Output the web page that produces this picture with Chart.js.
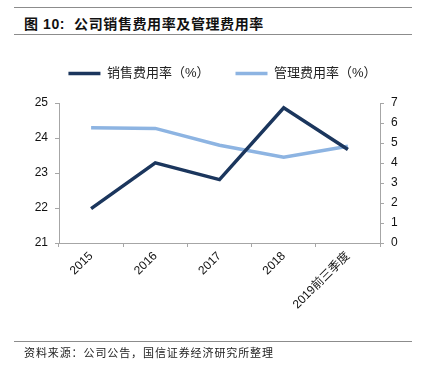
<!DOCTYPE html>
<html>
<head>
<meta charset="utf-8">
<script src="https://cdn.jsdelivr.net/npm/chart.js@4.4.1/dist/chart.umd.min.js"></script>
<style>
  html, body { margin: 0; padding: 0; background: #fff; }
  body { width: 421px; height: 366px; position: relative; overflow: hidden;
         font-family: "Liberation Sans", "Noto Sans CJK SC", sans-serif; }
  .rule { position: absolute; left: 14px; width: 398px; height: 0; border-top: 1px solid #8c8c8c; }
  #title { position: absolute; left: 24px; top: 13px; font-size: 14px; font-weight: bold;
           color: #111; letter-spacing: 0.6px; white-space: nowrap; }
  #source { position: absolute; left: 24px; top: 344px; font-size: 11px; color: #222;
            letter-spacing: 0.9px; white-space: nowrap; }
  #chart-wrap { position: absolute; left: 0; top: 0; width: 421px; height: 366px; }
</style>
</head>
<body>
<div class="rule" style="top:7px"></div>
<div id="title">图 10:&nbsp; 公司销售费用率及管理费用率</div>
<div class="rule" style="top:34px"></div>
<div id="chart-wrap"><canvas id="chart" width="421" height="366"></canvas></div>
<div class="rule" style="top:341px"></div>
<div id="source">资料来源：公司公告，国信证券经济研究所整理</div>

<script>
// --- datos ---
const categories = ['2015', '2016', '2017', '2018', '2019前三季度'];
const salesRate = [21.98, 23.29, 22.81, 24.86, 23.67];   // eje izquierdo
const adminRate = [5.76, 5.73, 4.89, 4.29, 4.84];        // eje derecho
const leftTicks = [21, 22, 23, 24, 25];
const rightTicks = [0, 1, 2, 3, 4, 5, 6, 7];

const FONT = '"Liberation Sans", "Noto Sans CJK SC", sans-serif';
const AXIS = '#a6a6a6';

// deja un hueco entre la leyenda y el área del gráfico
const legendGap = {
    id: 'legendGap',
    beforeInit(chart) {
        const fit = chart.legend.fit;
        chart.legend.fit = function () {
            fit.bind(chart.legend)();
            this.height += 13;
        };
    }
};

const axisGrid = {
    drawOnChartArea: false,
    drawTicks: true,
    tickLength: 4,
    color: AXIS
};

new Chart(document.getElementById('chart'), {
    type: 'line',
    data: {
        labels: categories,
        datasets: [
            {
                label: '销售费用率（%）',
                data: salesRate,
                yAxisID: 'y',
                borderColor: '#1b365d',
                backgroundColor: '#1b365d',
                borderWidth: 3.5,
                pointRadius: 0,
                tension: 0
            },
            {
                label: '管理费用率（%）',
                data: adminRate,
                yAxisID: 'y1',
                borderColor: '#8db4e2',
                backgroundColor: '#8db4e2',
                borderWidth: 3.5,
                pointRadius: 0,
                tension: 0
            }
        ]
    },
    options: {
        responsive: false,
        animation: false,
        devicePixelRatio: 1,
        // el padding izquierdo centra la leyenda como en el original
        layout: { padding: { top: 41, left: 24, right: 0, bottom: 38 } },
        plugins: {
            legend: {
                position: 'top',
                labels: {
                    usePointStyle: true,
                    pointStyle: 'line',
                    pointStyleWidth: 32,
                    padding: 26,
                    color: '#222',
                    font: { family: FONT, size: 13 }
                }
            },
            tooltip: { enabled: false }
        },
        scales: {
            x: {
                offset: true,
                grid: { ...axisGrid, offset: true },
                border: { color: AXIS },
                ticks: {
                    color: '#111',
                    font: { family: FONT, size: 12 },
                    minRotation: 45,
                    maxRotation: 45,
                    padding: 2
                },
                afterFit: s => { s.height = 85; }
            },
            y: {
                position: 'left',
                min: leftTicks[0],
                max: leftTicks[leftTicks.length - 1],
                grid: axisGrid,
                border: { color: AXIS },
                afterBuildTicks: s => { s.ticks = leftTicks.map(v => ({ value: v })); },
                ticks: { color: '#111', font: { family: FONT, size: 12 }, padding: 7 },
                afterFit: s => { s.width = 35; }
            },
            y1: {
                position: 'right',
                min: rightTicks[0],
                max: rightTicks[rightTicks.length - 1],
                grid: axisGrid,
                border: { color: AXIS },
                afterBuildTicks: s => { s.ticks = rightTicks.map(v => ({ value: v })); },
                ticks: { color: '#111', font: { family: FONT, size: 12 }, padding: 7 },
                afterFit: s => { s.width = 41; }
            }
        }
    },
    plugins: [legendGap]
});
</script>
</body>
</html>
